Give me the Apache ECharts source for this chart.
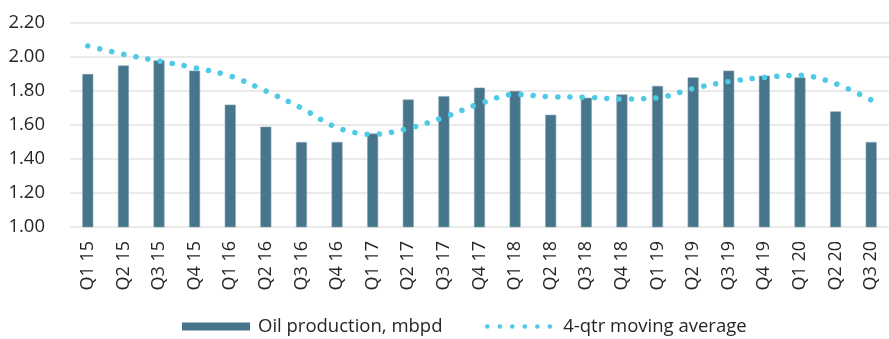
<!DOCTYPE html>
<html>
<head>
<meta charset="utf-8">
<script src="https://cdn.jsdelivr.net/npm/echarts@6/dist/echarts.min.js"></script>
<style>
  html, body { margin: 0; padding: 0; background: #fff; }
  #chart { width: 889px; height: 339px; }
</style>
</head>
<body>
<div id="chart"></div>
<script>
var quarters = ["Q1 15", "Q2 15", "Q3 15", "Q4 15", "Q1 16", "Q2 16", "Q3 16", "Q4 16",
	"Q1 17", "Q2 17", "Q3 17", "Q4 17", "Q1 18", "Q2 18", "Q3 18", "Q4 18",
	"Q1 19", "Q2 19", "Q3 19", "Q4 19", "Q1 20", "Q2 20", "Q3 20"];

// oil production, mbpd
var production = [1.90, 1.95, 1.98, 1.92, 1.72, 1.59, 1.50, 1.50,
	1.55, 1.75, 1.77, 1.82, 1.80, 1.66, 1.76, 1.78,
	1.83, 1.88, 1.92, 1.89, 1.88, 1.68, 1.50];

// 4-qtr moving average
var movingAvg = [2.065, 2.016, 1.976, 1.937, 1.888, 1.800, 1.700, 1.585,
	1.545, 1.580, 1.645, 1.725, 1.780, 1.766, 1.763, 1.753,
	1.760, 1.815, 1.855, 1.880, 1.892, 1.843, 1.747];

var yTicks = [1.0, 1.2, 1.4, 1.6, 1.8, 2.0, 2.2];

var barName = "Oil production, mbpd",
	lineName = "4-qtr moving average";

var chart = echarts.init(document.getElementById("chart"));

var font = "'Open Sans', 'Liberation Sans', sans-serif";
var legendText = { fontFamily: font, fontSize: 18.5, color: "#262626", padding: [0, 0, 0, 3] };

var option = {
	animation: false,
	grid: {
		left: 70,
		top: 23,
		bottom: 112,
		width: 830,
		containLabel: false
	},
	legend: [{
		data: [{ name: barName, icon: "rect" }],
		left: 182,
		top: 317,
		padding: 0,
		itemWidth: 68,
		itemHeight: 8,
		itemStyle: { borderWidth: 0 },
		textStyle: legendText
	}, {
		data: [{ name: lineName }],
		left: 485,
		top: 317,
		padding: 0,
		itemWidth: 68,
		itemHeight: 8,
		itemStyle: { opacity: 0 },
		lineStyle: { width: 4.5, type: [0.1, 12.4], cap: "round" },
		textStyle: legendText
	}],
	xAxis: {
		type: "category",
		data: quarters,
		boundaryGap: true,
		axisLine: { show: false },
		axisTick: { show: false },
		axisLabel: {
			rotate: 90,
			margin: 14,
			interval: 0,
			fontFamily: font,
			fontSize: 18,
			color: "#262626"
		}
	},
	yAxis: {
		type: "value",
		min: yTicks[0],
		max: yTicks[yTicks.length - 1],
		interval: 0.2,
		axisLine: { show: false },
		axisTick: { show: false },
		splitLine: { lineStyle: { color: "#e3e3e3", width: 1.5 } },
		axisLabel: {
			margin: 25,
			fontFamily: font,
			fontSize: 18.5,
			color: "#262626",
			formatter: function (v) { return v.toFixed(2); }
		}
	},
	series: [{
		name: barName,
		type: "bar",
		data: production,
		barWidth: 11,
		itemStyle: {
			color: "#47758b",
			borderColor: "#86a3b3",
			borderWidth: 0.6
		}
	}, {
		name: lineName,
		type: "line",
		data: movingAvg,
		smooth: 0.35,
		symbol: "none",
		showSymbol: false,
		itemStyle: { color: "#4ec9e6" },
		lineStyle: {
			color: "#4ec9e6",
			width: 5.5,
			type: [0.1, 12.2],
			cap: "round"
		}
	}]
};

chart.setOption(option);
</script>
</body>
</html>
